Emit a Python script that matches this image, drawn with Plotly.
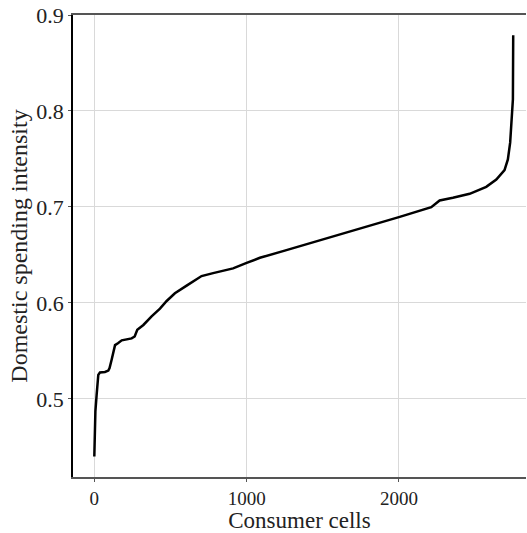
import plotly.graph_objects as go

cells = [0, 7, 15, 26, 37, 70, 92, 100, 114, 136, 155, 180, 245, 265, 282, 322, 376, 431,
         475, 529, 606, 704, 780, 911, 1000, 1087, 1250, 1480, 1700, 1937, 2005, 2212, 2267,
         2354, 2464, 2573, 2639, 2693, 2715, 2730, 2741, 2748, 2750]
intensity = [0.44, 0.487, 0.504, 0.525, 0.5275, 0.528, 0.5295, 0.532, 0.541, 0.556, 0.558,
             0.561, 0.563, 0.565, 0.572, 0.577, 0.586, 0.594, 0.602, 0.610, 0.618, 0.628,
             0.631, 0.636, 0.6417, 0.647, 0.6545, 0.665, 0.675, 0.6858, 0.6897, 0.6997,
             0.7067, 0.7095, 0.7137, 0.721, 0.7286, 0.7383, 0.7495, 0.767, 0.791, 0.812, 0.879]

x_ticks = [0, 1000, 2000]
y_ticks = [0.5, 0.6, 0.7, 0.8, 0.9]

FONT = "Liberation Serif"

fig = go.Figure()
fig.add_trace(go.Scatter(x=cells, y=intensity, mode="lines",
                         line=dict(color="black", width=2.5), showlegend=False))

fig.update_layout(
    template="none",
    width=527, height=533,
    margin=dict(l=73, r=1, t=15, b=56),
    plot_bgcolor="white", paper_bgcolor="white",
    font=dict(family=FONT, size=19, color="#222"),
    xaxis=dict(
        range=[-140, 2834], tickmode="array", tickvals=x_ticks,
        tickfont=dict(family=FONT, size=19, color="#222"),
        showgrid=True, gridcolor="#d9d9d9", gridwidth=1, zeroline=False,
        showline=True, linecolor="#555", linewidth=1.5, mirror=True,
        ticks="outside", ticklen=3, tickcolor="#555",
        title=dict(text="Consumer cells", standoff=2, font=dict(family=FONT, size=23, color="#222")),
    ),
    yaxis=dict(
        range=[0.4186, 0.9], tickmode="array", tickvals=y_ticks, tickformat=".1f",
        tickfont=dict(family=FONT, size=22, color="#222"),
        showgrid=True, gridcolor="#d9d9d9", gridwidth=1, zeroline=False,
        showline=True, linecolor="black", linewidth=1.5,
        ticks="outside", ticklen=3, tickcolor="#555",
        title=dict(text="Domestic spending intensity", standoff=2, font=dict(family=FONT, size=24, color="#222")),
    ),
)

fig.write_html("out.html")
